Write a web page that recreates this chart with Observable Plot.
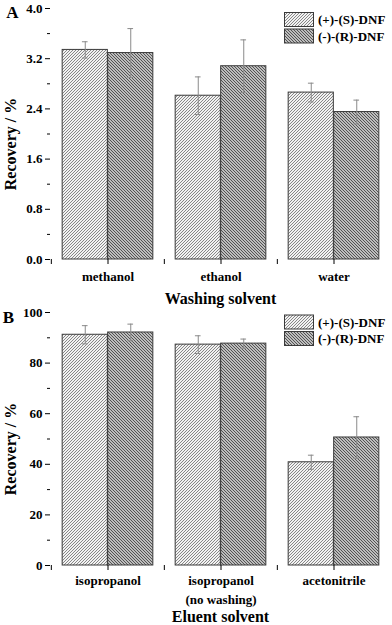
<!DOCTYPE html>
<html>
<head>
<meta charset="utf-8">
<script src="https://cdn.jsdelivr.net/npm/d3@7"></script>
<script src="https://cdn.jsdelivr.net/npm/@observablehq/plot@0.6"></script>
<style>
  html, body { margin: 0; padding: 0; background: #fff; }
  #chart svg { display: block; overflow: visible; }
</style>
</head>
<body>
<svg width="0" height="0" style="position:absolute">
  <defs>
    <pattern id="hatchS" patternUnits="userSpaceOnUse" width="3" height="3">
      <rect width="3" height="3" fill="#f2f2f2"/>
      <path d="M-1,1 l2,-2 M0,3 l3,-3 M2,4 l2,-2" stroke="#7a7a7a" stroke-width="0.9"/>
    </pattern>
    <pattern id="hatchR" patternUnits="userSpaceOnUse" width="3" height="3">
      <rect width="3" height="3" fill="#bdbdbd"/>
      <path d="M-1,2 l2,2 M0,0 l3,3 M2,-1 l2,2" stroke="#474747" stroke-width="0.9"/>
    </pattern>
  </defs>
</svg>
<div id="chart"></div>
<script>
// ---- data ----
const seriesNames = ["(+)-(S)-DNF", "(-)-(R)-DNF"];

const catsA = ["methanol", "ethanol", "water"];
const sA = [3.34, 2.61, 2.66];
const sAerr = [0.13, 0.30, 0.15];
const rA = [3.29, 3.08, 2.35];
const rAerr = [0.39, 0.42, 0.19];
const ticksA = [0, 0.8, 1.6, 2.4, 3.2, 4.0];
const minorA = [0.4, 1.2, 2.0, 2.8, 3.6];

const catsB = ["isopropanol", "isopropanol\n(no washing)", "acetonitrile"];
const sB = [91.2, 87.3, 40.8];
const sBerr = [3.6, 3.5, 2.8];
const rB = [92.1, 87.7, 50.6];
const rBerr = [3.3, 1.8, 8.2];
const ticksB = [0, 20, 40, 60, 80, 100];
const minorB = [10, 30, 50, 70, 90];

function rows(cats, vals, errs) {
  return cats.map((c, i) => ({cat: c, v: vals[i], e: errs[i]}));
}

function panel({letter, letterDx, cats, s, sErr, r, rErr, yDomain, ticks, minor, fmt, xTitle, titleDy, tickPad, height, marginTop, marginBottom, legendY}) {
  const dS = rows(cats, s, sErr);
  const dR = rows(cats, r, rErr);
  const W = 392, mL = 50, mR = 2;
  const step = (W - mL - mR) / cats.length;
  const half = 45.5, side = (step - 2 * half) / 2;
  const off = half / 2;
  const capIn = step / 2 - 3;
  const plot = Plot.plot({
    width: W, height, marginLeft: mL, marginRight: mR, marginTop, marginBottom,
    style: {fontFamily: "'Liberation Serif', 'Times New Roman', serif", fontSize: "13px", fontWeight: "bold", color: "#000", background: "transparent", overflow: "visible"},
    x: {domain: cats, padding: 0, axis: null},
    y: {domain: yDomain, axis: null},
    marks: [
      Plot.barY(dS, {x: "cat", y: "v", fill: "url(#hatchS)", stroke: "#3a3a3a", strokeWidth: 1, insetLeft: side, insetRight: side + half}),
      Plot.barY(dR, {x: "cat", y: "v", fill: "url(#hatchR)", stroke: "#3a3a3a", strokeWidth: 1, insetLeft: side + half, insetRight: side}),
      Plot.ruleX(dS, {x: "cat", y1: d => d.v - d.e, y2: d => d.v + d.e, dx: -off, stroke: "#8a8a8a", strokeWidth: 1}),
      Plot.ruleX(dR, {x: "cat", y1: d => d.v - d.e, y2: d => d.v + d.e, dx: off, stroke: "#8a8a8a", strokeWidth: 1}),
      Plot.tickY(dS, {x: "cat", y: d => d.v + d.e, dx: -off, insetLeft: capIn, insetRight: capIn, stroke: "#8a8a8a"}),
      Plot.tickY(dS, {x: "cat", y: d => d.v - d.e, dx: -off, insetLeft: capIn, insetRight: capIn, stroke: "#8a8a8a"}),
      Plot.tickY(dR, {x: "cat", y: d => d.v + d.e, dx: off, insetLeft: capIn, insetRight: capIn, stroke: "#8a8a8a"}),
      Plot.tickY(dR, {x: "cat", y: d => d.v - d.e, dx: off, insetLeft: capIn, insetRight: capIn, stroke: "#8a8a8a"}),
      Plot.axisY({ticks, tickSize: 5, tickPadding: 3, tickFormat: fmt, label: null, line: true, stroke: "#000"}),
      Plot.axisY({ticks: minor, tickSize: 3, tickFormat: () => "", label: null, stroke: "#000"}),
      Plot.axisX({tickSize: 5, tickPadding: tickPad, label: null, line: true, stroke: "#000", lineHeight: 1.45}),
      Plot.axisX({tickSize: 5, dx: -step / 2, tickFormat: () => "", label: null, stroke: "#000"}),
      Plot.text(["Recovery / %"], {frameAnchor: "left", rotate: -90, dx: -40, dy: 10, fontSize: 16, fontWeight: "bold", textAnchor: "middle", lineAnchor: "middle"}),
      Plot.text([xTitle], {frameAnchor: "bottom", dy: titleDy, fontSize: 16, fontWeight: "bold", lineAnchor: "middle"}),
      Plot.text([letter], {frameAnchor: "top-left", dx: letterDx, dy: 12.5 - marginTop, fontSize: 17, fontWeight: "bold", textAnchor: "middle", lineAnchor: "middle"})
    ]
  });
  // legend
  const svg = d3.select(plot);
  const g = svg.append("g")
    .attr("font-family", "'Liberation Serif', 'Times New Roman', serif")
    .attr("font-weight", "bold").attr("font-size", 13).attr("text-anchor", "start");
  seriesNames.forEach((name, i) => {
    const y0 = legendY + i * 16.5;
    g.append("rect").attr("x", 284.5).attr("y", y0).attr("width", 29).attr("height", 14)
      .attr("fill", i === 0 ? "url(#hatchS)" : "url(#hatchR)").attr("stroke", "#3a3a3a");
    g.append("text").attr("x", 318).attr("y", y0 + 7).attr("dy", "0.35em").attr("text-anchor", "start").text(name);
  });
  return plot;
}

const chart = document.getElementById("chart");
chart.appendChild(panel({
  letter: "A", letterDx: -38, cats: catsA, s: sA, sErr: sAerr, r: rA, rErr: rAerr,
  yDomain: [0, 4], ticks: ticksA, minor: minorA, fmt: d3.format(".1f"),
  xTitle: "Washing solvent", titleDy: 39, tickPad: 3,
  height: 305, marginTop: 8, marginBottom: 46, legendY: 12.5
}));
chart.appendChild(panel({
  letter: "B", letterDx: -42, cats: catsB, s: sB, sErr: sBerr, r: rB, rErr: rBerr,
  yDomain: [0, 100], ticks: ticksB, minor: minorB, fmt: d3.format("d"),
  xTitle: "Eluent solvent", titleDy: 51, tickPad: 1,
  height: 320, marginTop: 7, marginBottom: 60, legendY: 10
}));
</script>
</body>
</html>
